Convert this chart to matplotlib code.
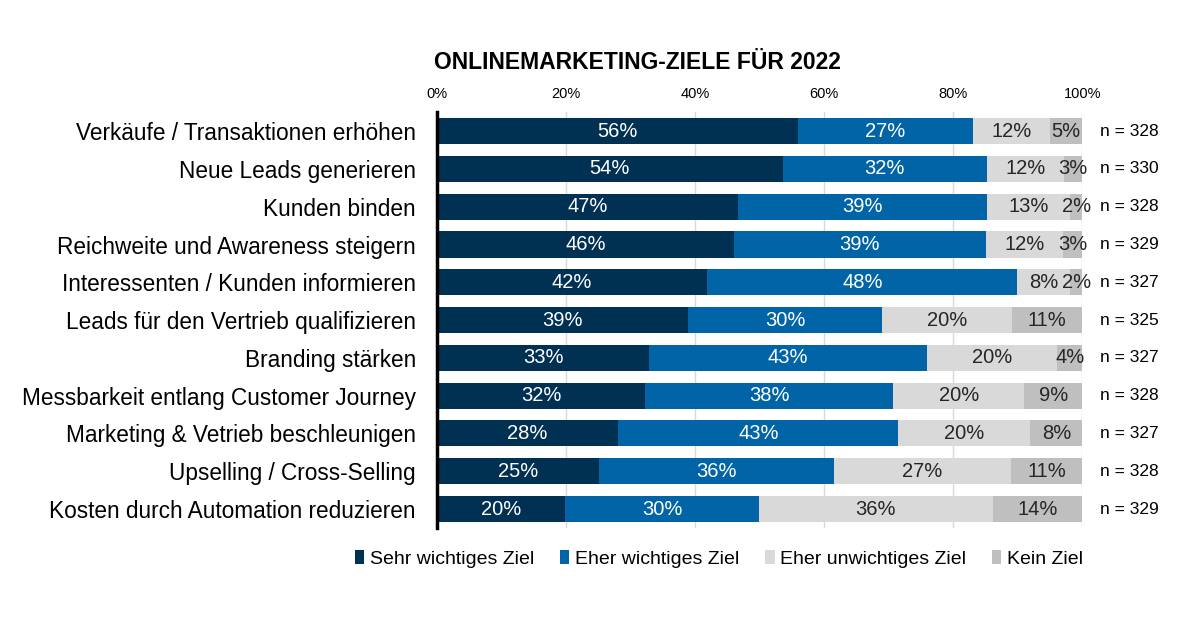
import matplotlib.pyplot as plt
import numpy as np

plt.rcParams['font.family'] = ['Liberation Sans', 'DejaVu Sans']

# %%
# Onlinemarketing-Ziele 2022, shares in percent
categories = ['Verkäufe / Transaktionen erhöhen',
              'Neue Leads generieren',
              'Kunden binden',
              'Reichweite und Awareness steigern',
              'Interessenten / Kunden informieren',
              'Leads für den Vertrieb qualifizieren',
              'Branding stärken',
              'Messbarkeit entlang Customer Journey',
              'Marketing & Vetrieb beschleunigen',
              'Upselling / Cross-Selling',
              'Kosten durch Automation reduzieren']
sehr_wichtig = [56.0, 53.6, 46.6, 46.0, 41.9, 38.9, 32.9, 32.3, 28.1, 25.1, 19.9]
eher_wichtig = [27.0, 31.6, 38.6, 39.0, 48.0, 30.1, 43.0, 38.4, 43.4, 36.4, 30.0]
eher_unwichtig = [12.0, 11.9, 12.9, 12.0, 8.2, 20.1, 20.2, 20.3, 20.4, 27.4, 36.2]
kein_ziel = [5.0, 2.9, 1.9, 3.0, 1.9, 10.9, 3.9, 9.0, 8.1, 11.1, 13.9]
n_values = [328, 330, 328, 329, 327, 325, 327, 328, 327, 328, 329]

series = [('Sehr wichtiges Ziel', sehr_wichtig, '#003152', 'white'),
          ('Eher wichtiges Ziel', eher_wichtig, '#0064a7', 'white'),
          ('Eher unwichtiges Ziel', eher_unwichtig, '#d9d9d9', '#262626'),
          ('Kein Ziel', kein_ziel, '#bfbfbf', '#262626')]

# %%
fig = plt.figure(figsize=(12, 6.27), dpi=100)
ax = fig.add_axes([0.364, 0.158, 0.538, 0.663])

y = np.arange(len(categories))
left = np.zeros(len(categories))
for name, vals, color, tcolor in series:
    vals = np.array(vals)
    bars = ax.barh(y, vals, left=left, height=0.69, color=color,
                   label=name, zorder=2)
    labels = ['%d%%' % round(v) for v in vals]
    ax.bar_label(bars, labels=labels, label_type='center',
                 color=tcolor, fontsize=14.5)
    left += vals

for yi, n in zip(y, n_values):
    ax.text(102.8, yi, 'n = %d' % n, va='center', ha='left', fontsize=12.5)

ax.set_xlim(0, 100)
ax.set_ylim(len(categories) - 0.5, -0.5)
ax.set_yticks(y)
ax.set_yticklabels(categories, fontsize=16.3)
ax.set_xticks(np.arange(0, 101, 20))
ax.set_xticklabels(['%d%%' % t for t in range(0, 101, 20)], fontsize=10.5)
ax.xaxis.tick_top()
ax.tick_params(axis='both', length=0)
ax.tick_params(axis='x', pad=8)
ax.tick_params(axis='y', pad=15)
ax.grid(axis='x', color='#d9d9d9', linewidth=1, zorder=0)
for s in ['top', 'right', 'bottom']:
    ax.spines[s].set_visible(False)
ax.spines['left'].set_linewidth(2.5)
ax.spines['left'].set_zorder(3)

fig.text(0.531, 0.9, 'ONLINEMARKETING-ZIELE FÜR 2022', ha='center',
         va='center', fontsize=16.5, fontweight='bold')

leg = ax.legend(loc='upper center', bbox_to_anchor=(0.437, -0.012), ncol=4,
                frameon=False, fontsize=14, handlelength=0.5,
                handleheight=0.7, handletextpad=0.3, columnspacing=1.3)

fig.savefig('out.png', dpi=100)
